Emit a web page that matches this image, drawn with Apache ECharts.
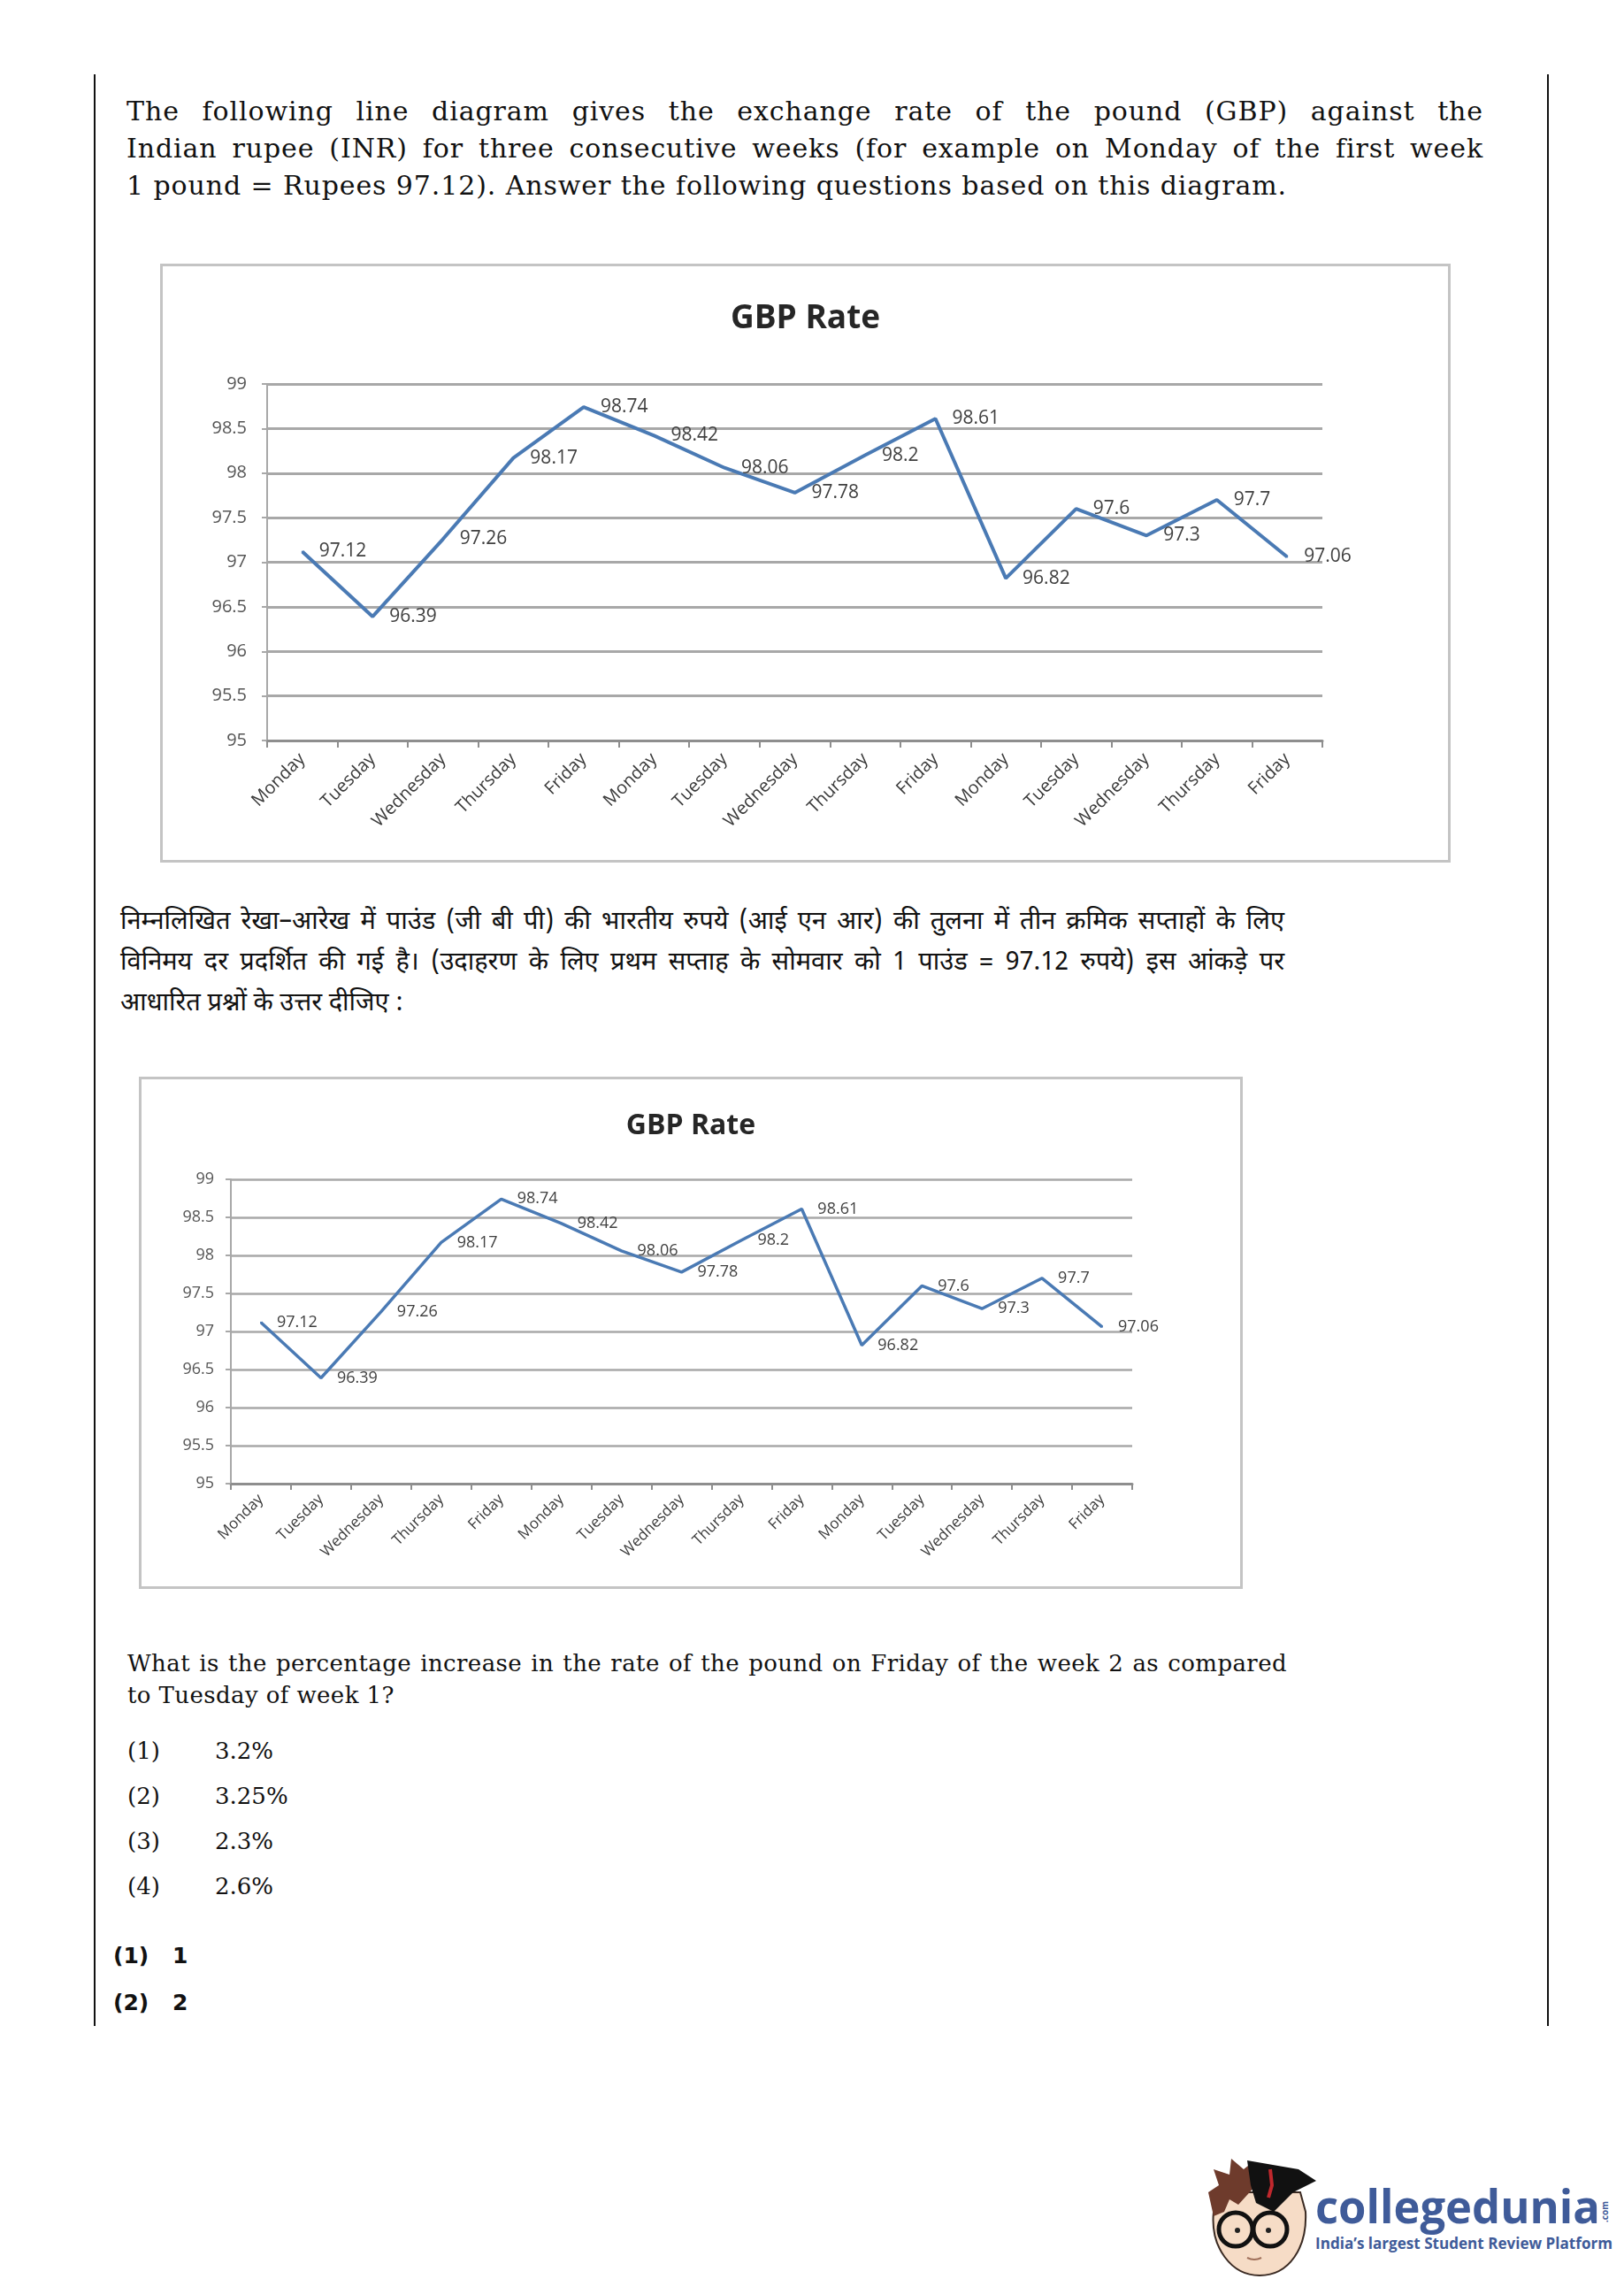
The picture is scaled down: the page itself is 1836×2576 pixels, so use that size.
<!DOCTYPE html>
<html>
<head>
<meta charset="utf-8">
<script src="https://cdn.jsdelivr.net/npm/echarts@6/dist/echarts.min.js"></script>
<style>
  html, body { margin: 0; padding: 0; background: #ffffff; }
  body { width: 1836px; height: 2576px; position: relative; overflow: hidden; }
  .abs { position: absolute; }
  .serif { font-family: "DejaVu Serif", "Liberation Serif", serif; color: #111; }
  .just { text-align: justify; text-align-last: justify; white-space: nowrap; }
  .hindi { font-family: "Noto Sans Devanagari", "Lohit Devanagari", "FreeSans", "Noto Sans", sans-serif; color: #111; }
  .box { border: 3px solid #c4c4c4; box-sizing: border-box; background: #fff; }
  .ans { font-family: "DejaVu Sans", sans-serif; font-weight: bold; font-size: 25px; color: #111; }
</style>
</head>
<body>

<svg class="abs" style="left:0;top:0" width="1836" height="2576">
  <line x1="107" y1="84" x2="107" y2="2290" stroke="#111" stroke-width="2"/>
  <line x1="1750" y1="84" x2="1750" y2="2290" stroke="#111" stroke-width="2"/>
  <!-- logo mascot -->
  <g>
    <path d="M1372,2500 C1368,2540 1392,2572 1424,2572 C1458,2572 1478,2540 1476,2500 L1470,2478 L1380,2478 Z" fill="#f6dcc6" stroke="#3a2a22" stroke-width="2"/>
    <path d="M1372,2505 L1366,2478 L1378,2470 L1372,2452 L1390,2458 L1392,2440 L1406,2452 L1416,2444 L1420,2470 L1400,2492 L1390,2486 L1384,2500 Z" fill="#6e3b2c"/>
    <path d="M1410,2442 L1468,2452 L1488,2465 L1462,2478 L1440,2500 L1420,2490 L1414,2470 Z" fill="#111"/>
    <path d="M1436,2452 L1438,2470 L1434,2484" stroke="#c0282d" stroke-width="4" fill="none"/>
    <circle cx="1397" cy="2520" r="19" fill="none" stroke="#111" stroke-width="5"/>
    <circle cx="1436" cy="2520" r="19" fill="none" stroke="#111" stroke-width="5"/>
    <line x1="1416" y1="2518" x2="1417" y2="2518" stroke="#111" stroke-width="4"/>
    <circle cx="1399" cy="2521" r="3" fill="#222"/>
    <circle cx="1434" cy="2521" r="3" fill="#222"/>
    <path d="M1410,2552 Q1418,2556 1426,2552" stroke="#a0705a" stroke-width="2" fill="none"/>
  </g>
  <text x="1487" y="2513" font-family="Open Sans" font-weight="bold" font-size="52" fill="#3f5b99" textLength="322" lengthAdjust="spacingAndGlyphs">collegedunia</text>
  <text x="0" y="0" transform="translate(1818,2512) rotate(-90)" font-family="Open Sans" font-weight="bold" font-size="10" fill="#3f5b99">.com</text>
  <text x="1487" y="2542" font-family="Open Sans" font-weight="bold" font-size="17" fill="#3f5b99" textLength="336" lengthAdjust="spacingAndGlyphs">India’s largest Student Review Platform</text>
</svg>

<div class="abs serif" style="left:143px;top:105px;width:1534px;font-size:30px;line-height:42px;letter-spacing:0.9px;">
  <div class="just">The following line diagram gives the exchange rate of the pound (GBP) against the</div>
  <div class="just">Indian rupee (INR) for three consecutive weeks (for example on Monday of the first week</div>
  <div style="white-space:nowrap">1 pound = Rupees 97.12). Answer the following questions based on this diagram.</div>
</div>

<div id="chart1" class="abs box" style="left:181px;top:298px;width:1459px;height:677px;"></div>

<div class="abs hindi" style="left:136px;top:1020px;width:1316px;font-size:29px;line-height:46px;">
  <div class="just">निम्नलिखित रेखा–आरेख में पाउंड (जी बी पी) की भारतीय रुपये (आई एन आर) की तुलना में तीन क्रमिक सप्ताहों के लिए</div>
  <div class="just">विनिमय दर प्रदर्शित की गई है। (उदाहरण के लिए प्रथम सप्ताह के सोमवार को 1 पाउंड = 97.12 रुपये) इस आंकड़े पर</div>
  <div style="white-space:nowrap">आधारित प्रश्नों के उत्तर दीजिए :</div>
</div>

<div id="chart2" class="abs box" style="left:157px;top:1217px;width:1248px;height:579px;"></div>

<div class="abs serif" style="left:144px;top:1862px;width:1311px;font-size:26px;line-height:36px;letter-spacing:0.4px;">
  <div class="just">What is the percentage increase in the rate of the pound on Friday of the week 2 as compared</div>
  <div style="white-space:nowrap">to Tuesday of week 1?</div>
</div>

<div class="abs serif" style="left:144px;top:1954px;font-size:26px;line-height:51px;">
  <div>(1)</div><div>(2)</div><div>(3)</div><div>(4)</div>
</div>
<div class="abs serif" style="left:243px;top:1954px;font-size:26px;line-height:51px;">
  <div>3.2%</div><div>3.25%</div><div>2.3%</div><div>2.6%</div>
</div>

<div class="abs ans" style="left:128px;top:2184px;line-height:53px;">
  <div>(1)</div><div>(2)</div>
</div>
<div class="abs ans" style="left:195px;top:2184px;line-height:53px;">
  <div>1</div><div>2</div>
</div>

<script>
// ---- data ----
const chartTitle = 'GBP Rate';
const categories = ['Monday', 'Tuesday', 'Wednesday', 'Thursday', 'Friday',
                    'Monday', 'Tuesday', 'Wednesday', 'Thursday', 'Friday',
                    'Monday', 'Tuesday', 'Wednesday', 'Thursday', 'Friday'];
const gbpRate = [97.12, 96.39, 97.26, 98.17, 98.74,
                 98.42, 98.06, 97.78, 98.2, 98.61,
                 96.82, 97.6, 97.3, 97.7, 97.06];
const yMin = 95;
const yMax = 99;
const yStep = 0.5;

const FONT = '"Open Sans", "Liberation Sans", sans-serif';
const LINE_COLOR = '#4a7ab4';
const GRID_COLOR = '#a8a8a8';
const AXIS_COLOR = '#8e8e8e';

function makeOption(s) {
  return {
    animation: false,
    backgroundColor: '#ffffff',
    title: {
      text: chartTitle,
      left: 'center',
      top: s.titleTop,
      textStyle: { fontFamily: FONT, fontWeight: 'bold', fontSize: s.titleSize, color: '#262626' }
    },
    grid: { left: s.left, right: s.right, top: s.top, bottom: s.bottom, containLabel: false },
    xAxis: {
      type: 'category',
      data: categories,
      boundaryGap: true,
      axisLine: { show: true, lineStyle: { color: AXIS_COLOR, width: s.axisW } },
      axisTick: { show: true, length: s.tickLen, lineStyle: { color: AXIS_COLOR, width: 2 } },
      axisLabel: { interval: 0, rotate: 45, margin: s.xMargin, fontSize: s.xFont, color: '#3a3a3a', fontFamily: FONT },
      splitLine: { show: false }
    },
    yAxis: {
      type: 'value',
      min: yMin,
      max: yMax,
      interval: yStep,
      axisLine: { show: true, lineStyle: { color: GRID_COLOR, width: 2 } },
      axisTick: { show: true, length: 6, lineStyle: { color: GRID_COLOR, width: 2 } },
      axisLabel: { margin: s.yMargin, fontSize: s.yFont, color: '#555555', fontFamily: FONT },
      splitLine: { show: true, lineStyle: { color: GRID_COLOR, width: s.gridW } }
    },
    series: [{
      type: 'line',
      data: gbpRate,
      symbol: 'circle',
      symbolSize: 2,
      showSymbol: true,
      itemStyle: { color: LINE_COLOR },
      lineStyle: { color: LINE_COLOR, width: s.lineW },
      label: {
        show: true,
        position: 'right',
        distance: s.labelDist,
        fontSize: s.labelFont,
        color: '#404040',
        fontFamily: FONT
      }
    }]
  };
}

const c1 = echarts.init(document.getElementById('chart1'), null, { renderer: 'canvas' });
c1.setOption(makeOption({
  titleTop: 36, titleSize: 37,
  left: 118, right: 142, top: 133, bottom: 135,
  axisW: 3, tickLen: 8, xMargin: 18, xFont: 20,
  yMargin: 23, yFont: 20, gridW: 3, lineW: 4,
  labelDist: 18, labelFont: 21
}));

const c2 = echarts.init(document.getElementById('chart2'), null, { renderer: 'canvas' });
c2.setOption(makeOption({
  titleTop: 32, titleSize: 32,
  left: 101, right: 122, top: 113, bottom: 116,
  axisW: 3, tickLen: 7, xMargin: 15, xFont: 17,
  yMargin: 19, yFont: 18, gridW: 2.5, lineW: 3.5,
  labelDist: 17, labelFont: 18
}));
</script>
</body>
</html>
